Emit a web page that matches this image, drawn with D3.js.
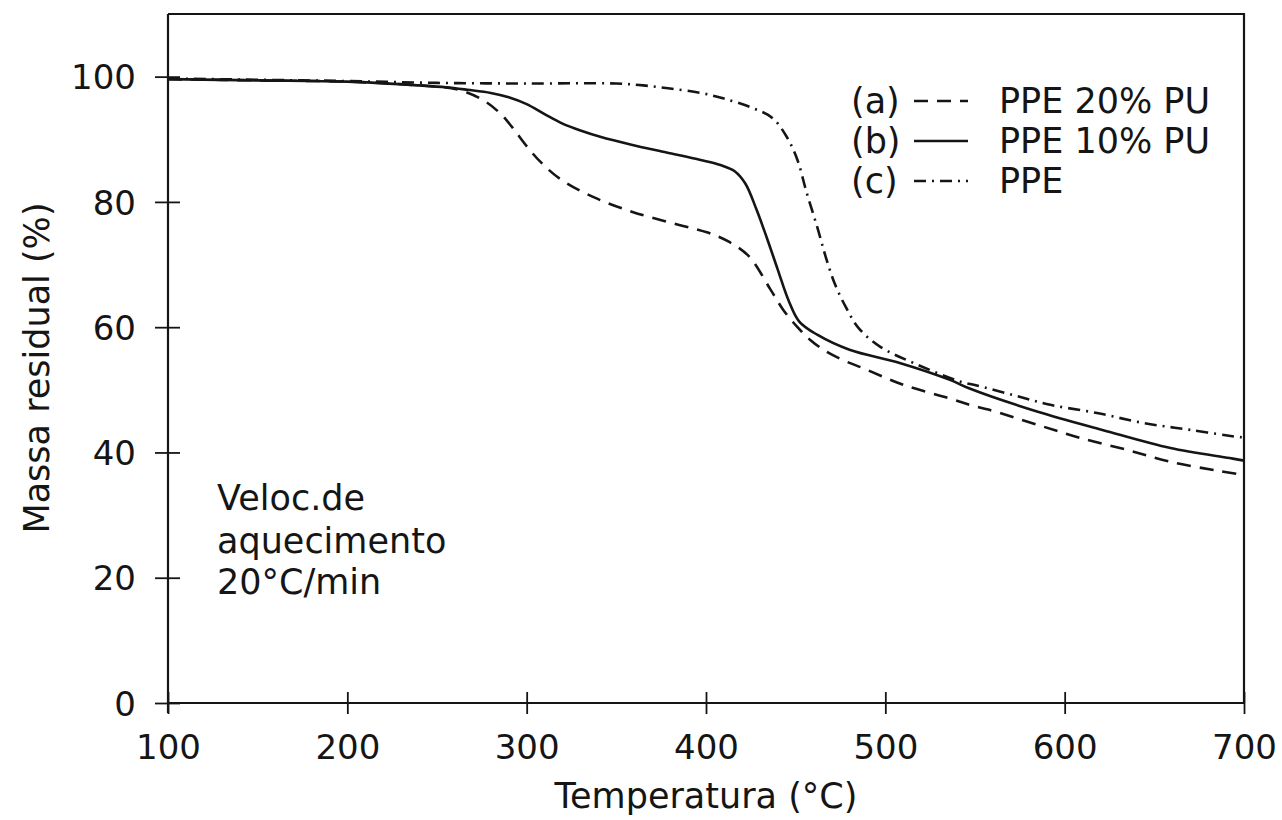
<!DOCTYPE html>
<html>
<head>
<meta charset="utf-8">
<script src="https://cdn.jsdelivr.net/npm/d3@7"></script>
<style>
  html, body { margin: 0; padding: 0; background: #fff; }
  svg text { font-family: "DejaVu Sans", "Liberation Sans", sans-serif; fill: #151515; }
</style>
</head>
<body>
<svg id="chart" width="1282" height="820"></svg>
<script>
// Thermogravimetric curves: residual mass (%) vs temperature (°C)
const xTicks = [100, 200, 300, 400, 500, 600, 700];
const yTicks = [0, 20, 40, 60, 80, 100];

// (a) PPE 20% PU
const tempA = [100, 150, 200, 240, 262, 276, 285, 292, 300, 308, 319, 337, 359, 384, 401, 413, 424, 436, 443, 451, 458, 466, 476, 488, 510, 535, 547, 558, 585, 609, 635, 659, 685, 700];
const massA = [99.6, 99.4, 99.2, 98.6, 97.9, 96.2, 94.2, 91.9, 88.9, 86.3, 83.6, 80.8, 78.4, 76.4, 75.1, 73.6, 71.3, 66.0, 62.8, 60.0, 58.0, 56.3, 54.8, 53.4, 50.8, 48.7, 47.6, 46.8, 44.4, 42.3, 40.4, 38.5, 37.1, 36.4];

// (b) PPE 10% PU
const tempB = [100, 150, 200, 240, 255, 267, 280, 290, 300, 310, 320, 330, 341, 359, 378, 397, 408, 416, 422, 428, 434, 440, 446, 452, 462, 480, 508, 536, 547, 585, 621, 659, 692, 700];
const massB = [99.6, 99.4, 99.2, 98.6, 98.3, 97.9, 97.4, 96.7, 95.6, 94.0, 92.5, 91.4, 90.4, 89.1, 87.9, 86.7, 85.9, 84.9, 82.9, 78.9, 74.2, 69.2, 64.3, 60.9, 58.8, 56.4, 54.3, 51.6, 50.2, 46.5, 43.6, 40.7, 39.1, 38.7];

// (c) PPE
const tempC = [100, 150, 200, 250, 300, 350, 365, 380, 397, 410, 425, 437, 445, 451, 456, 462, 467, 472, 478, 485, 497, 518, 542, 551, 572, 592, 618, 644, 670, 696, 700];
const massC = [99.7, 99.5, 99.3, 99.0, 98.9, 98.9, 98.6, 98.1, 97.4, 96.5, 95.1, 93.4, 90.4, 86.7, 81.6, 76.0, 71.0, 66.8, 63.2, 59.9, 56.9, 54.0, 51.3, 50.7, 49.1, 47.6, 46.3, 44.7, 43.6, 42.5, 42.4];

const seriesLabels = ["PPE 20% PU", "PPE 10% PU", "PPE"];
const seriesTags = ["(a)", "(b)", "(c)"];
const dashes = ["14,9", null, "12,6,2,6"];

const svg = d3.select("#chart");
const x = d3.scaleLinear().domain([100, 700]).range([168, 1244]);
const y = d3.scaleLinear().domain([0, 110]).range([703, 14]);

const ink = "#151515";

// frame (top and right edges)
svg.append("path")
  .attr("d", `M${x(100)},${y(110)}H${x(700)}V${y(0)}`)
  .attr("fill", "none").attr("stroke", ink).attr("stroke-width", 2.2);

// x axis with ticks crossing the line
const gx = svg.append("g").attr("transform", `translate(0,${y(0)})`)
  .call(d3.axisBottom(x).tickValues(xTicks).tickSize(10).tickPadding(22).tickFormat(d3.format("d")));
gx.select(".domain").attr("stroke", ink).attr("stroke-width", 2.2).attr("d", `M${x(100)},0H${x(700)}`);
gx.selectAll(".tick line").attr("y1", -11).attr("y2", 11).attr("stroke", ink).attr("stroke-width", 1.8);
gx.selectAll(".tick text").attr("font-size", 34).attr("fill", ink).attr("dy", "0.71em");

// y axis
const gy = svg.append("g").attr("transform", `translate(${x(100)},0)`)
  .call(d3.axisLeft(y).tickValues(yTicks).tickSize(12).tickPadding(20).tickFormat(d3.format("d")));
gy.select(".domain").attr("stroke", ink).attr("stroke-width", 2.2).attr("d", `M0,${y(110)}V${y(0) + 10}`);
gy.selectAll(".tick line").attr("x1", -13).attr("x2", 12).attr("stroke", ink).attr("stroke-width", 1.8);
gy.selectAll(".tick text").attr("font-size", 34).attr("fill", ink).attr("dy", "0.36em");

// axis titles
svg.append("text").attr("x", 706).attr("y", 808).attr("text-anchor", "middle")
  .attr("font-size", 35).text("Temperatura (°C)");
svg.append("text").attr("transform", "translate(49,368) rotate(-90)").attr("text-anchor", "middle")
  .attr("font-size", 35).text("Massa residual (%)");

// curves
const line = d3.line().x(d => x(d[0])).y(d => y(d[1])).curve(d3.curveCatmullRom.alpha(0.5));
const data = [d3.zip(tempA, massA), d3.zip(tempB, massB), d3.zip(tempC, massC)];
data.forEach((pts, i) => {
  svg.append("path").datum(pts)
    .attr("d", line)
    .attr("fill", "none")
    .attr("stroke", ink)
    .attr("stroke-width", 2.6)
    .attr("stroke-dasharray", dashes[i]);
});

// legend
const legY = [100, 140, 180];
seriesLabels.forEach((lab, i) => {
  svg.append("text").attr("x", 851).attr("y", legY[i]).attr("dy", "0.36em")
    .attr("font-size", 35).text(seriesTags[i]);
  svg.append("line").attr("x1", 914).attr("x2", 968).attr("y1", legY[i] + 1).attr("y2", legY[i] + 1)
    .attr("stroke", ink).attr("stroke-width", 2.4).attr("stroke-dasharray", dashes[i]);
  svg.append("text").attr("x", 999).attr("y", legY[i]).attr("dy", "0.36em")
    .attr("font-size", 35).text(lab);
});

// heating-rate note
const note = ["Veloc.de", "aquecimento", "20°C/min"];
note.forEach((t, i) => {
  svg.append("text").attr("x", 217).attr("y", [497, 540, 581][i]).attr("dy", "0.36em")
    .attr("font-size", 35).text(t);
});
</script>
</body>
</html>
